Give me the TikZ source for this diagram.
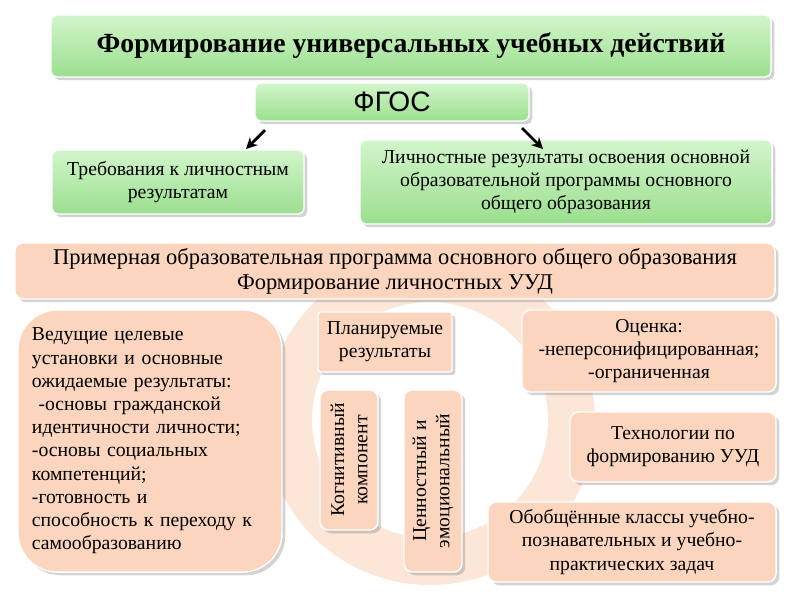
\documentclass[tikz,border=0pt]{standalone}
\usepackage{fontspec}
\setmainfont{Liberation Serif}
\newfontfamily\arialfont{Liberation Sans}
\usetikzlibrary{shadows,arrows.meta}
\definecolor{greenTop}{HTML}{D2F5CB}
\definecolor{greenBot}{HTML}{9BDF8E}
\definecolor{peach}{HTML}{FBD5BE}
\definecolor{ringcol}{HTML}{FCE6D8}
\tikzset{
  greenbox/.style={rectangle, rounded corners=4pt, draw=white, line width=1pt,
    top color=greenTop, bottom color=greenBot, drop shadow={opacity=0.35},
    align=center, inner sep=2pt},
  peachbox/.style={rectangle, rounded corners=6pt, draw=white, line width=1pt,
    fill=peach, drop shadow={opacity=0.35}, align=center, inner sep=2pt},
  boxtext/.style={font=\fontsize{14}{16.5}\selectfont},
}
\begin{document}
\begin{tikzpicture}[x=0.025cm,y=-0.025cm]
  \useasboundingbox (0,0) rectangle (800,600);
  % background ring
  \fill[ringcol, even odd rule] (430,420) circle (165) (430,420) circle (118);

  \node[greenbox, minimum width=18cm, minimum height=1.55cm, font=\fontsize{19.7}{23}\selectfont\bfseries]
    (title) at (411,46) {Формирование универсальных учебных действий};
  \node[greenbox, minimum width=6.85cm, minimum height=0.95cm, font=\arialfont\fontsize{20}{22}\selectfont]
    (fgos) at (392,102) {ФГОС};
  \node[greenbox, boxtext, minimum width=6.3cm, minimum height=1.6cm]
    (treb) at (178,182) {Требования к личностным\\результатам};
  \node[greenbox, boxtext, minimum width=10.3cm, minimum height=2.1cm]
    (lichn) at (566,182) {Личностные результаты освоения основной\\образовательной программы основного\\общего образования};

  \coordinate (a1s) at (265,130); \coordinate (a1e) at (246,149);
  \coordinate (a2s) at (522,128); \coordinate (a2e) at (543,149);
  \draw[line width=2pt, -{Stealth[length=8pt,width=8pt]}] (a1s) -- (a1e);
  \draw[line width=2pt, -{Stealth[length=8pt,width=8pt]}] (a2s) -- (a2e);

  \node[peachbox, minimum width=19cm, minimum height=1.4cm, font=\fontsize{16}{18}\selectfont]
    (prim) at (395,271) {Примерная образовательная программа основного общего образования\\Формирование личностных УУД};
  \node[peachbox, boxtext, rounded corners=28pt, minimum width=6.6cm, minimum height=6.55cm,
    align=left, text width=5.9cm]
    (ved) at (150,441) {\raggedright Ведущие целевые\\установки и основные\\ожидаемые результаты:\\
     \ -основы гражданской\\идентичности личности;\\-основы социальных\\компетенций;\\-готовность и\\способность к переходу к\\самообразованию};
  \node[peachbox, boxtext, rounded corners=2pt, minimum width=3.35cm, minimum height=1.5cm]
    (plan) at (385,342) {Планируемые\\результаты};
  \node[peachbox, boxtext, minimum width=6.35cm, minimum height=2.05cm]
    (ocen) at (649,351) {Оценка:\\-неперсонифицированная;\\-ограниченная};
  \node[peachbox, boxtext, rotate=90, minimum width=3.5cm, minimum height=1.45cm]
    (kogn) at (349,460) {Когнитивный\\компонент};
  \node[peachbox, boxtext, rotate=90, minimum width=4.55cm, minimum height=1.45cm]
    (cenn) at (433,481) {Ценностный и\\эмоциональный};
  \node[peachbox, boxtext, minimum width=5.15cm, minimum height=1.75cm]
    (tehn) at (673,447) {Технологии по\\формированию УУД};
  \node[peachbox, boxtext, minimum width=7.2cm, minimum height=2cm]
    (obob) at (632,542) {Обобщённые классы учебно-\\познавательных и учебно-\\практических задач};
\end{tikzpicture}
\end{document}
